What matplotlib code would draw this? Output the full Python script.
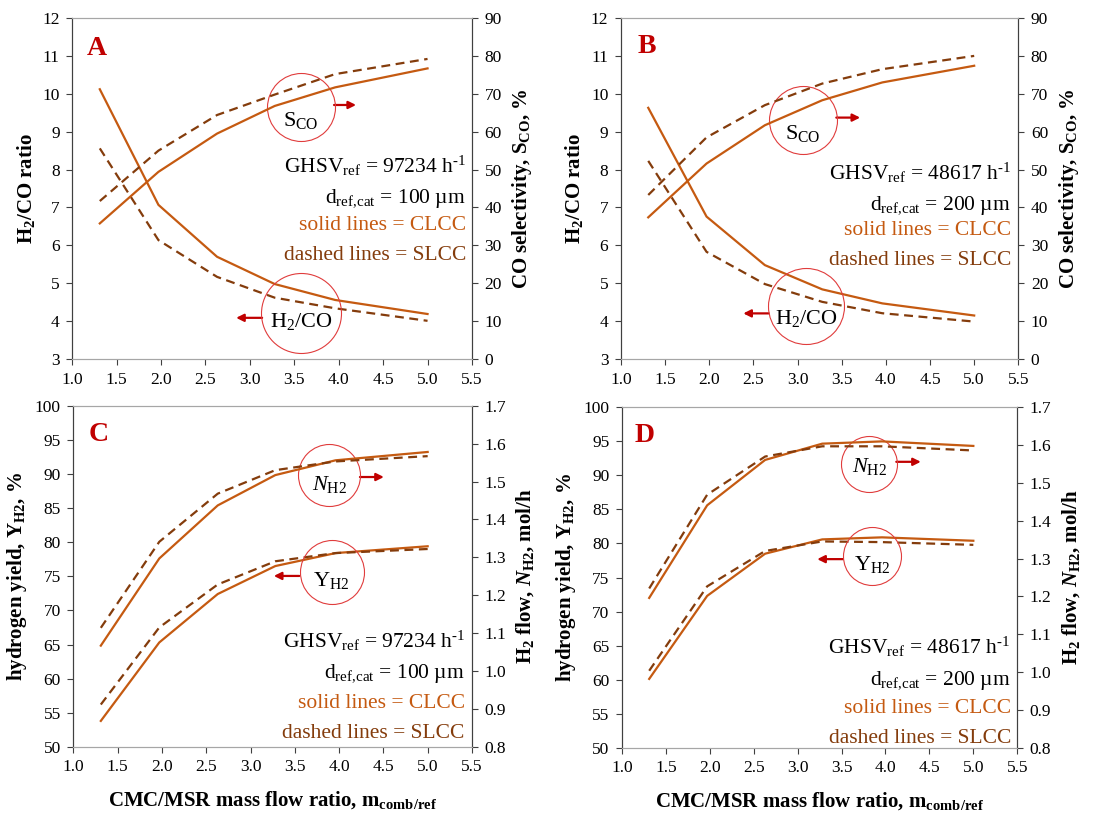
import matplotlib
matplotlib.use("Agg")
import matplotlib.pyplot as plt
import numpy as np

plt.rcParams['font.family'] = ['Liberation Serif', 'DejaVu Serif']
plt.rcParams['mathtext.fontset'] = 'custom'
plt.rcParams['mathtext.rm'] = 'Liberation Serif'
plt.rcParams['mathtext.it'] = 'Liberation Serif:italic'
plt.rcParams['mathtext.bf'] = 'Liberation Serif:bold'
plt.rcParams['mathtext.bfit'] = 'Liberation Serif:bold:italic'

# mass flow ratio m_comb/ref
m_ratio = [1.31, 1.97, 2.63, 3.28, 3.96, 5.0]

# A: GHSV 97234 h-1, d = 100 um
h2co_clcc_a = [10.12, 7.07, 5.70, 4.98, 4.56, 4.19]
h2co_slcc_a = [8.56, 6.14, 5.17, 4.62, 4.34, 4.01]
sco_clcc_a = [35.8, 49.4, 59.5, 66.8, 71.7, 76.7]
sco_slcc_a = [41.7, 55.0, 64.4, 69.8, 75.2, 79.2]

# B: GHSV 48617 h-1, d = 200 um
h2co_clcc_b = [9.63, 6.76, 5.48, 4.84, 4.47, 4.15]
h2co_slcc_b = [8.23, 5.83, 4.98, 4.51, 4.21, 3.99]
sco_clcc_b = [37.4, 51.6, 61.7, 68.3, 73.0, 77.4]
sco_slcc_b = [43.3, 58.5, 67.0, 72.7, 76.5, 80.0]

# C: hydrogen yield / flow, GHSV 97234 h-1
yh2_clcc_c = [53.8, 65.3, 72.4, 76.5, 78.4, 79.4]
yh2_slcc_c = [56.2, 67.5, 73.8, 77.2, 78.4, 79.0]
nh2_clcc_c = [1.067, 1.297, 1.437, 1.517, 1.556, 1.578]
nh2_slcc_c = [1.114, 1.341, 1.468, 1.530, 1.553, 1.567]

# D: hydrogen yield / flow, GHSV 48617 h-1
yh2_clcc_d = [60.1, 72.3, 78.5, 80.6, 80.9, 80.4]
yh2_slcc_d = [61.3, 73.7, 78.9, 80.3, 80.2, 79.8]
nh2_clcc_d = [1.196, 1.441, 1.561, 1.604, 1.610, 1.598]
nh2_slcc_d = [1.221, 1.469, 1.570, 1.597, 1.597, 1.586]

x_ticks = np.arange(1.0, 5.51, 0.5)

c_solid = '#C55A11'
c_dash = '#843C0C'
c_red = '#C00000'
c_circ = '#E03C3C'

fig = plt.figure(figsize=(10.95, 8.18), dpi=100)

pos = {
    'A': [0.066, 0.561, 0.365, 0.417],
    'B': [0.567, 0.561, 0.363, 0.417],
    'C': [0.067, 0.087, 0.364, 0.417],
    'D': [0.568, 0.086, 0.361, 0.416],
}


def style_axes(ax, ax2):
    for a in (ax, ax2):
        a.spines['top'].set_color('#a6a6a6')
        a.spines['bottom'].set_color('#a6a6a6')
        a.spines['left'].set_color('#404040')
        a.spines['right'].set_color('#404040')
        a.tick_params(direction='out', length=4, width=0.8, color='#404040',
                      labelsize=12.5, pad=5)
    ax.set_xlim(1.0, 5.5)
    ax.set_xticks(x_ticks)
    ax.set_xticklabels(["%.1f" % v for v in x_ticks])


def info_text(ax, xr, ys, ghsv, dcat):
    ax.text(xr, ys[0], r"GHSV$_{\mathrm{ref}}$ = %s h$^{\text{-1}}$" % ghsv,
            transform=ax.transAxes, ha='right', va='baseline', fontsize=15.5)
    ax.text(xr, ys[1], r"d$_{\mathrm{ref{,}cat}}$ = %s µm" % dcat,
            transform=ax.transAxes, ha='right', va='baseline', fontsize=15.5)
    ax.text(xr, ys[2], "solid lines = CLCC", color=c_solid,
            transform=ax.transAxes, ha='right', va='baseline', fontsize=15.5)
    ax.text(xr, ys[3], "dashed lines = SLCC", color=c_dash,
            transform=ax.transAxes, ha='right', va='baseline', fontsize=15.5)


def marker_circle(ax, xy, r_px, label, text_y, arrow):
    # open red circle round a curve label, with an arrow to its axis
    ax.plot([xy[0]], [xy[1]], marker='o', ms=2 * r_px * 0.72, mfc='none',
            mec=c_circ, mew=0.8, transform=ax.transAxes, clip_on=False, zorder=5)
    ax.text(xy[0], text_y, label, transform=ax.transAxes, ha='center',
            va='center', fontsize=16, zorder=6)
    ax.annotate('', xy=arrow[1], xytext=arrow[0], xycoords='axes fraction',
                textcoords='axes fraction',
                arrowprops=dict(arrowstyle='-|>', color=c_red, lw=1.6,
                                mutation_scale=11, shrinkA=0, shrinkB=0))


def panel_letter(ax, xy, letter):
    ax.text(xy[0], xy[1], letter, transform=ax.transAxes, ha='center',
            va='center', fontsize=20, fontweight='bold', color=c_red)


# ---- top row: H2/CO ratio and CO selectivity
top = [
    ('A', h2co_clcc_a, h2co_slcc_a, sco_clcc_a, sco_slcc_a, '97234', '100'),
    ('B', h2co_clcc_b, h2co_slcc_b, sco_clcc_b, sco_slcc_b, '48617', '200'),
]
for key, h_s, h_d, s_s, s_d, ghsv, dcat in top:
    ax = fig.add_axes(pos[key])
    ax2 = ax.twinx()
    ax.plot(m_ratio, h_s, color=c_solid, lw=1.6)
    ax.plot(m_ratio, h_d, color=c_dash, lw=1.6, dashes=(4, 2.5))
    ax2.plot(m_ratio, s_s, color=c_solid, lw=1.6)
    ax2.plot(m_ratio, s_d, color=c_dash, lw=1.6, dashes=(4, 2.5))
    ax.set_ylim(3, 12)
    ax.set_yticks(range(3, 13))
    ax2.set_ylim(0, 90)
    ax2.set_yticks(range(0, 91, 10))
    style_axes(ax, ax2)
    ax.set_ylabel(r"H$_\mathbf{2}$/CO ratio", fontsize=15, fontweight='bold',
                  labelpad=4)
    ax2.set_ylabel(r"CO selectivity, S$_{\mathbf{CO}}$, %", fontsize=15,
                   fontweight='bold', labelpad=6)
    if key == 'A':
        info_text(ax, 0.985, [0.545, 0.457, 0.378, 0.290], ghsv, dcat)
        marker_circle(ax, (0.572, 0.738), 34, r"S$_{\mathrm{CO}}$", 0.70,
                      ((0.655, 0.745), (0.71, 0.745)))
        marker_circle(ax, (0.573, 0.134), 40, r"H$_{2}$/CO", 0.11,
                      ((0.475, 0.121), (0.41, 0.121)))
        panel_letter(ax, (0.062, 0.911), 'A')
    else:
        info_text(ax, 0.982, [0.525, 0.437, 0.364, 0.276], ghsv, dcat)
        marker_circle(ax, (0.458, 0.701), 34, r"S$_{\mathrm{CO}}$", 0.662,
                      ((0.542, 0.708), (0.602, 0.708)))
        marker_circle(ax, (0.466, 0.156), 38, r"H$_{2}$/CO", 0.119,
                      ((0.372, 0.134), (0.308, 0.134)))
        panel_letter(ax, (0.065, 0.916), 'B')

# ---- bottom row: hydrogen yield and H2 flow
bottom = [
    ('C', yh2_clcc_c, yh2_slcc_c, nh2_clcc_c, nh2_slcc_c, '97234', '100'),
    ('D', yh2_clcc_d, yh2_slcc_d, nh2_clcc_d, nh2_slcc_d, '48617', '200'),
]
for key, y_s, y_d, n_s, n_d, ghsv, dcat in bottom:
    ax = fig.add_axes(pos[key])
    ax2 = ax.twinx()
    ax.plot(m_ratio, y_s, color=c_solid, lw=1.6)
    ax.plot(m_ratio, y_d, color=c_dash, lw=1.6, dashes=(4, 2.5))
    ax2.plot(m_ratio, n_s, color=c_solid, lw=1.6)
    ax2.plot(m_ratio, n_d, color=c_dash, lw=1.6, dashes=(4, 2.5))
    ax.set_ylim(50, 100)
    ax.set_yticks(range(50, 101, 5))
    ax2.set_ylim(0.8, 1.7)
    n_ticks = np.arange(0.8, 1.71, 0.1)
    ax2.set_yticks(n_ticks)
    ax2.set_yticklabels(["%.1f" % v for v in n_ticks])
    style_axes(ax, ax2)
    ax.set_ylabel(r"hydrogen yield, Y$_{\mathbf{H2}}$, %", fontsize=15,
                  fontweight='bold', labelpad=4)
    ax2.set_ylabel(r"H$_\mathbf{2}$ flow, $\mathbfit{N}_{\mathbf{H2}}$, mol/h",
                   fontsize=15, fontweight='bold', labelpad=6)
    ax.set_xlabel(r"CMC/MSR mass flow ratio, m$_{\mathbf{comb/ref}}$",
                  fontsize=15, fontweight='bold', labelpad=10)
    if key == 'C':
        info_text(ax, 0.982, [0.289, 0.201, 0.113, 0.026], ghsv, dcat)
        marker_circle(ax, (0.642, 0.798), 31, r"$N_{\mathrm{H2}}$", 0.768,
                      ((0.719, 0.791), (0.779, 0.791)))
        marker_circle(ax, (0.648, 0.512), 32, r"Y$_{\mathrm{H2}}$", 0.487,
                      ((0.567, 0.501), (0.503, 0.501)))
        panel_letter(ax, (0.063, 0.917), 'C')
    else:
        info_text(ax, 0.984, [0.276, 0.185, 0.102, 0.014], ghsv, dcat)
        marker_circle(ax, (0.626, 0.835), 28, r"$N_{\mathrm{H2}}$", 0.827,
                      ((0.694, 0.840), (0.756, 0.840)))
        marker_circle(ax, (0.632, 0.563), 29, r"Y$_{\mathrm{H2}}$", 0.537,
                      ((0.559, 0.554), (0.494, 0.554)))
        panel_letter(ax, (0.058, 0.916), 'D')

fig.savefig("out.png", dpi=100)
